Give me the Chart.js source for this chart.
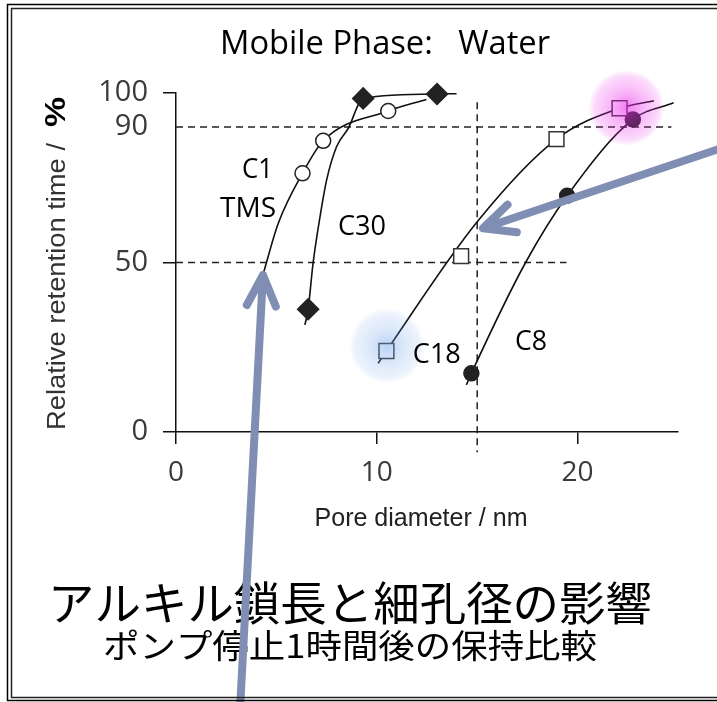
<!DOCTYPE html>
<html>
<head>
<meta charset="utf-8">
<style>
  html, body { margin: 0; padding: 0; background: #fff; overflow: hidden; }
  #wrap { position: relative; width: 717px; height: 702px; }
  canvas { display: block; }
</style>
<script src="https://cdn.jsdelivr.net/npm/chart.js@4.4.1/dist/chart.umd.min.js"></script>
</head>
<body>
<div id="wrap"><canvas id="chart" width="717" height="702"></canvas></div>
<script>
// Relative retention time (%) after a 1 h pump stop vs. pore diameter (nm), water mobile phase.

// C1 / TMS (open circles)
const c1MarkX = [6.3, 7.33, 10.57];
const c1MarkY = [76.3, 85.9, 94.7];
const c1LineX = [4.35, 5.09, 6.3, 7.33, 10.57, 12.47];
const c1LineY = [46.8, 61.5, 76.3, 85.9, 94.7, 98.1];

// C30 (filled diamonds)
const c30MarkX = [6.58, 9.32, 13.0];
const c30MarkY = [36.2, 98.4, 99.7];
const c30LineX = [6.42, 6.58, 6.83, 7.2, 7.5, 8.0, 8.58, 9.32, 13.0, 13.97];
const c30LineY = [31.6, 36.2, 50, 64.5, 74.3, 84.2, 89.6, 98.4, 99.7, 99.8];

// C18 (open squares)
const c18MarkX = [10.48, 14.2, 18.95, 22.09];
const c18MarkY = [23.9, 51.9, 86.4, 95.5];
const c18LineX = [10.07, 10.48, 15.0, 18.95, 22.09, 23.8];
const c18LineY = [20.3, 23.9, 62.0, 86.4, 95.5, 97.7];

// C8 (filled circles)
const c8MarkX = [14.71, 19.48, 22.75];
const c8MarkY = [17.3, 69.7, 92.2];
const c8LineX = [14.46, 14.71, 17.41, 19.48, 22.75, 24.78];
const c8LineY = [13.9, 17.3, 50.0, 69.7, 92.2, 97.1];

// Reference lines (90 %, 50 %, 15 nm)
const ref90X = [0, 24.67];
const ref90Y = [90, 90];
const ref50X = [0, 19.45];
const ref50Y = [50, 50];
const ref15X = [15, 15];
const ref15Y = [97.3, -6];

// Axis ticks
const xTickValues = [0, 10, 20];
const yTickValues = [0, 50, 90, 100];
const yTickMarked = [0, 50, 100];

// Series labels (text, x, y at baseline centre)
const seriesLabelText = ['C1', 'TMS', 'C30', 'C18', 'C8'];
const seriesLabelX = [4.06, 3.59, 9.26, 12.99, 17.68];
const seriesLabelY = [74.9, 63.4, 58.1, 20.4, 24.2];
const seriesLabelW = [31, 56, 48, 48, 32];

// Highlight glows (data position, colour)
const glowX = [22.44, 10.5];
const glowY = [95.6, 25.4];
const glowRGB = ['235,40,235', '110,160,235'];
const glowAlpha = [0.6, 0.45];

// Pointer arrows (tail -> tip, data coordinates)
const arrowTailX = [3.16, 28.05];
const arrowTailY = [-85, 85.5];
const arrowTipX = [4.33, 15.29];
const arrowTipY = [46.3, 60.1];

const pts = (xs, ys) => xs.map((x, i) => ({ x, y: ys[i] }));

const curve = (xs, ys) => ({
  data: pts(xs, ys), showLine: true, borderColor: '#111', borderWidth: 1.6,
  pointRadius: 0, cubicInterpolationMode: 'monotone', order: 1, clip: false
});
const marks = (xs, ys, style, r, fill, stroke) => ({
  data: pts(xs, ys), showLine: false, pointStyle: style, pointRadius: r,
  pointBackgroundColor: fill, pointBorderColor: stroke, pointBorderWidth: 1.5, order: 0, clip: false
});
const dashed = (xs, ys) => ({
  data: pts(xs, ys), showLine: true, borderColor: '#222', borderWidth: 1.5,
  borderDash: [7, 5], pointRadius: 0, order: 2, clip: false
});

// Draws text so that it spans the given width, horizontally scaled.
function fitText(ctx, text, x, y, font, width, color, align) {
  ctx.save();
  ctx.font = font;
  ctx.fillStyle = color;
  ctx.textBaseline = 'alphabetic';
  const w = ctx.measureText(text).width;
  ctx.translate(x, y);
  ctx.scale(width / w, 1);
  ctx.textAlign = align || 'center';
  ctx.fillText(text, 0, 0);
  ctx.restore();
}

const decorPlugin = {
  id: 'decor',
  afterDatasetsDraw(chart) {
    const { ctx, scales } = chart;
    // soft highlight glows over selected markers
    glowX.forEach((gx, i) => {
      const cx = scales.x.getPixelForValue(gx);
      const cy = scales.y.getPixelForValue(glowY[i]);
      const r = 38;
      const g = ctx.createRadialGradient(cx, cy, 0, cx, cy, r);
      const a = glowAlpha[i], c = glowRGB[i];
      g.addColorStop(0, `rgba(${c},${a})`);
      g.addColorStop(0.45, `rgba(${c},${a * 0.55})`);
      g.addColorStop(0.85, `rgba(${c},${a * 0.28})`);
      g.addColorStop(1, `rgba(${c},0)`);
      ctx.save();
      ctx.fillStyle = g;
      ctx.beginPath();
      ctx.arc(cx, cy, r, 0, Math.PI * 2);
      ctx.fill();
      ctx.restore();
    });
  },
  afterDraw(chart) {
    const { ctx, scales } = chart;

    // series labels
    seriesLabelText.forEach((t, i) => {
      fitText(ctx, t, scales.x.getPixelForValue(seriesLabelX[i]),
        scales.y.getPixelForValue(seriesLabelY[i]), '27px "Open Sans"', seriesLabelW[i], '#000');
    });

    // title
    fitText(ctx, 'Mobile Phase:   Water', 385, 54, '32px "Open Sans"', 330, '#000');

    // x axis title
    fitText(ctx, 'Pore diameter / nm', 421, 526, '25px "Liberation Sans"', 213, '#222');

    // y axis title (rotated), bold percent sign
    ctx.save();
    ctx.translate(65, 430);
    ctx.rotate(-Math.PI / 2);
    fitText(ctx, 'Relative retention time /', 0, 0, '26px "Liberation Sans"', 287, '#333', 'left');
    ctx.font = 'bold 30px "Liberation Sans"';
    ctx.fillStyle = '#000';
    ctx.textAlign = 'left';
    ctx.textBaseline = 'alphabetic';
    const pw = ctx.measureText('%').width;
    ctx.save();
    ctx.translate(303, 0);
    ctx.scale(30 / pw, 1);
    ctx.fillText('%', 0, 0);
    ctx.restore();
    ctx.restore();

    // Japanese captions
    fitText(ctx, 'アルキル鎖長と細孔径の影響', 350, 620, '46px "Noto Sans CJK JP"', 604, '#000');
    fitText(ctx, 'ポンプ停止1時間後の保持比較', 350, 658, '33px "Noto Sans CJK JP"', 494, '#000');

    // pointer arrows
    ctx.save();
    ctx.strokeStyle = 'rgb(127,142,178)';
    ctx.lineWidth = 8;
    ctx.lineCap = 'round';
    ctx.lineJoin = 'round';
    arrowTipX.forEach((tx, i) => {
      const x1 = scales.x.getPixelForValue(arrowTailX[i]);
      const y1 = scales.y.getPixelForValue(arrowTailY[i]);
      const x2 = scales.x.getPixelForValue(tx);
      const y2 = scales.y.getPixelForValue(arrowTipY[i]);
      const ang = Math.atan2(y1 - y2, x1 - x2);
      const hl = 34, ha = 0.44;
      ctx.beginPath();
      ctx.moveTo(x1, y1);
      ctx.lineTo(x2, y2);
      ctx.moveTo(x2 + hl * Math.cos(ang - ha), y2 + hl * Math.sin(ang - ha));
      ctx.lineTo(x2, y2);
      ctx.lineTo(x2 + hl * Math.cos(ang + ha), y2 + hl * Math.sin(ang + ha));
      ctx.stroke();
    });
    ctx.restore();

    // double frame
    ctx.save();
    ctx.strokeStyle = '#000';
    ctx.lineWidth = 1.5;
    ctx.beginPath();
    ctx.moveTo(730, 4.5); ctx.lineTo(7.5, 4.5); ctx.lineTo(7.5, 700.5); ctx.lineTo(730, 700.5);
    ctx.stroke();
    ctx.strokeStyle = '#222';
    ctx.beginPath();
    ctx.moveTo(730, 8.5); ctx.lineTo(11.5, 8.5); ctx.lineTo(11.5, 697.5); ctx.lineTo(730, 697.5);
    ctx.stroke();
    ctx.restore();
  }
};

new Chart(document.getElementById('chart'), {
  type: 'scatter',
  data: {
    datasets: [
      dashed(ref90X, ref90Y),
      dashed(ref50X, ref50Y),
      dashed(ref15X, ref15Y),
      curve(c1LineX, c1LineY),
      curve(c30LineX, c30LineY),
      curve(c18LineX, c18LineY),
      curve(c8LineX, c8LineY),
      marks(c1MarkX, c1MarkY, 'circle', 7.5, '#fff', '#222'),
      marks(c30MarkX, c30MarkY, 'rectRot', 10.5, '#222', '#222'),
      marks(c18MarkX, c18MarkY, 'rect', 10.5, '#fff', '#333'),
      marks(c8MarkX, c8MarkY, 'circle', 7.5, '#222', '#222')
    ]
  },
  options: {
    responsive: false,
    devicePixelRatio: 1,
    animation: false,
    events: [],
    layout: { padding: { left: 0, top: 93, right: 39, bottom: 0 } },
    plugins: { legend: { display: false }, tooltip: { enabled: false } },
    scales: {
      x: {
        type: 'linear', min: 0, max: 25,
        afterFit: s => { s.height = 270; },
        afterBuildTicks: s => { s.ticks = xTickValues.map(v => ({ value: v })); },
        grid: { drawOnChartArea: false, drawTicks: true, tickLength: 12, color: '#111', lineWidth: 1.5 },
        border: { display: true, color: '#111', width: 1.5 },
        ticks: { color: '#3a3a3a', font: { family: 'Open Sans', size: 28 }, padding: 12, maxRotation: 0 }
      },
      y: {
        type: 'linear', min: 0, max: 100,
        afterFit: s => { s.width = 176; },
        afterBuildTicks: s => { s.ticks = yTickValues.map(v => ({ value: v })); },
        grid: {
          drawOnChartArea: false, drawTicks: true, tickLength: 13, lineWidth: 1.5,
          color: c => (yTickMarked.includes(c.tick && c.tick.value) ? '#111' : 'rgba(0,0,0,0)')
        },
        border: { display: true, color: '#111', width: 1.5 },
        ticks: { color: '#3a3a3a', font: { family: 'Open Sans', size: 29 }, padding: 15 }
      }
    }
  },
  plugins: [decorPlugin]
});
</script>
</body>
</html>
